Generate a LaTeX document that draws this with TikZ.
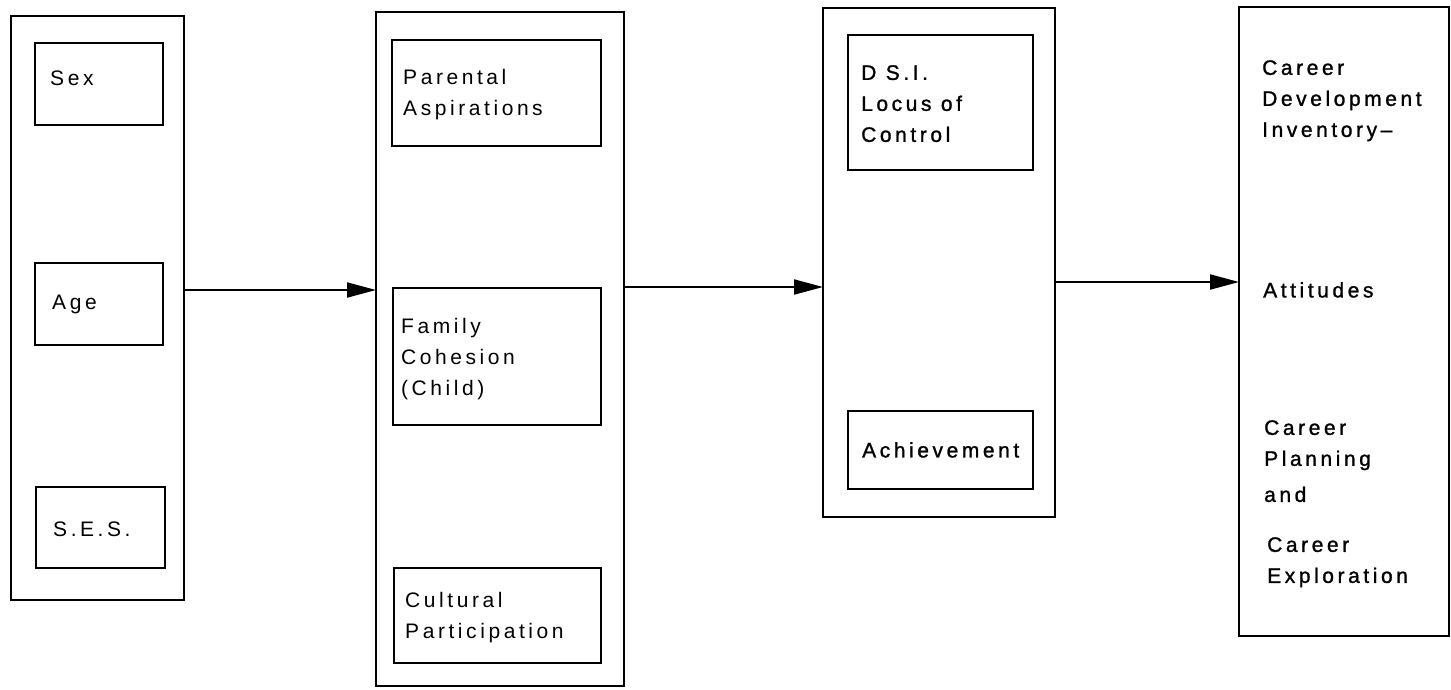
\documentclass[tikz,border=0pt]{standalone}
\usepackage{fontspec}
\setmainfont{Liberation Sans}[LetterSpace=17]
\newfontfamily\heavyfont{Liberation Sans}[LetterSpace=17, FakeBold=1.2]
\usepackage{tikz}
\usetikzlibrary{arrows.meta, positioning}
\newcommand{\lblfont}{\fontsize{21}{31}\selectfont}

\begin{document}
\begin{tikzpicture}[
    x=1pt, y=-1pt,
    outbox/.style={draw, line width=2.8pt, outer sep=0pt, inner sep=0pt},
    inbox/.style={draw, line width=2pt, outer sep=0pt, inner sep=0pt},
    txt/.style={inner sep=0pt, align=left, font=\lblfont},
    heavy/.style={txt, font=\lblfont\heavyfont},
    arrow/.style={-{Triangle[length=29pt, width=15pt]}, line width=2pt}
]
    \useasboundingbox (0,0) rectangle (1451,689);

    \node[outbox, minimum width=173pt, minimum height=584pt] (ctx) at (97.5,308) {};
    \node[outbox, minimum width=248pt, minimum height=674pt] (fam) at (500,349) {};
    \node[outbox, minimum width=232pt, minimum height=509pt] (psy) at (939,262.5) {};
    \node[outbox, minimum width=210pt, minimum height=629pt] (cdi) at (1344,321.5) {};

    \node[inbox, minimum width=128pt, minimum height=82pt] (sex) at (99,84) {};
    \node[inbox, minimum width=128pt, minimum height=82pt] (age) at (99,304) {};
    \node[inbox, minimum width=129pt, minimum height=81pt] (ses) at (100.5,527.5) {};
    \node[inbox, minimum width=209pt, minimum height=106pt] (asp) at (496.5,93) {};
    \node[inbox, minimum width=208pt, minimum height=137pt] (coh) at (497,356.5) {};
    \node[inbox, minimum width=207pt, minimum height=95pt] (cul) at (497.5,615.5) {};
    \node[inbox, minimum width=185pt, minimum height=135pt] (dsi) at (940.5,102.5) {};
    \node[inbox, minimum width=185pt, minimum height=78pt] (ach) at (940.5,450) {};

    \node[txt, below right=28pt and 15pt of sex.north west] (sext) {Sex};
    \node[txt, below right=32pt and 17pt of age.north west] (aget) {Age};
    \node[txt, below right=35pt and 17pt of ses.north west] (sest) {S.E.S.};
    \node[txt, below right=29pt and 11pt of asp.north west] (aspt) {Parental\\Aspirations};
    \node[txt, below right=30pt and 8pt of coh.north west] (coht) {Family\\Cohesion\\(Child)};
    \node[txt, below right=24pt and 11pt of cul.north west] (cult) {Cultural\\Participation};
    \node[heavy, below right=30pt and 13pt of dsi.north west] (dsit) {D S.I.\\Locus\ of\\Control};
    \node[heavy, below right=31pt and 14pt of ach.north west] (acht) {Achievement};

    \node[heavy, below right=53pt and 23pt of cdi.north west] (cdit) {Career\\Development\\Inventory–};
    \node[heavy, below right=275pt and 24pt of cdi.north west] (attt) {Attitudes};
    \node[heavy, below right=413pt and 25pt of cdi.north west] (plnt) {Career\\Planning\\[5pt]and};
    \node[heavy, below right=530pt and 28pt of cdi.north west] (expt) {Career\\Exploration};

    \coordinate (a1) at (0,290);
    \coordinate (a2) at (0,287);
    \coordinate (a3) at (0,282);
    \draw[arrow] (ctx.east |- a1) -- (fam.west |- a1);
    \draw[arrow] (fam.east |- a2) -- (psy.west |- a2);
    \draw[arrow] (psy.east |- a3) -- (cdi.west |- a3);
\end{tikzpicture}
\end{document}
